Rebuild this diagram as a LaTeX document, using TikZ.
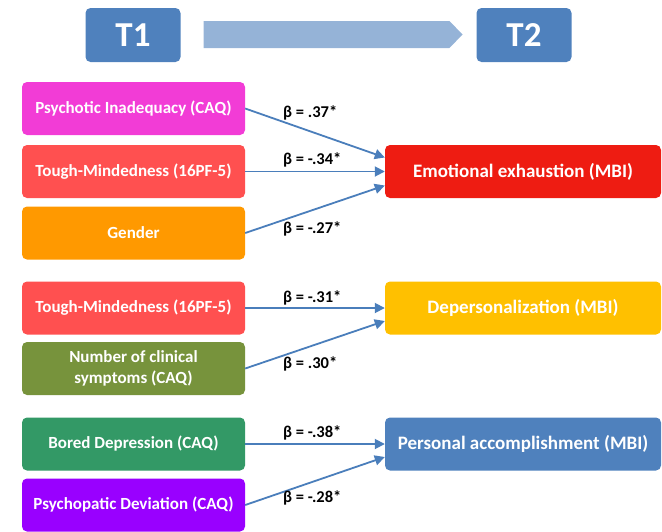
\documentclass[tikz,border=0pt]{standalone}
\usepackage{fontspec}
\setmainfont{Carlito}
\usetikzlibrary{shapes.symbols,arrows.meta}

\definecolor{timeblue}{HTML}{4F81BD}
\definecolor{bandblue}{HTML}{95B3D7}
\definecolor{arrowblue}{HTML}{4A7EBB}
\definecolor{pinkbox}{HTML}{F23CD6}
\definecolor{salmonbox}{HTML}{FF5050}
\definecolor{orangebox}{HTML}{FF9900}
\definecolor{redbox}{HTML}{EE1C12}
\definecolor{yellowbox}{HTML}{FFC000}
\definecolor{olivebox}{HTML}{77933C}
\definecolor{greenbox}{HTML}{339966}
\definecolor{purplebox}{HTML}{9900FF}

\tikzset{
  timebox/.style={fill=timeblue, rounded corners=5pt, minimum width=95, minimum height=54,
    text=white, font=\bfseries\fontsize{35}{37}\selectfont},
  factor/.style={rounded corners=5pt, minimum width=223, minimum height=53, inner sep=2pt,
    text=white, align=center, font=\bfseries\fontsize{17}{21}\selectfont},
  outcome/.style={factor, minimum width=276, font=\bfseries\fontsize{19}{21}\selectfont},
  effect/.style={draw=arrowblue, line width=1.8pt, -{Triangle[length=10pt,width=10pt]}},
  beta/.style={anchor=west, inner sep=0pt, font=\bfseries\fontsize{16.5}{18}\selectfont}
}

\begin{document}
\begin{tikzpicture}[x=1pt,y=-1pt]
\useasboundingbox (0,0) rectangle (662,531);

% time axis
\node[timebox] (t1) at (133,35) {T1};
\node[timebox] (t2) at (524,35) {T2};
\node[signal, signal to=east, signal pointer angle=92, fill=bandblue,
  minimum width=259, minimum height=27, inner sep=0pt] (span) at (326.5,34.5) {};

% emotional exhaustion
\node[factor, fill=pinkbox] (psyinad) at (133.5,108.5) {Psychotic Inadequacy (CAQ)};
\node[factor, fill=salmonbox] (tough1) at (133.5,171.5) {Tough-Mindedness (16PF-5)};
\node[factor, fill=orangebox] (gender) at (133.5,233) {Gender};
\node[outcome, fill=redbox] (exhaust) at (523,171.5) {Emotional exhaustion (MBI)};

\draw[effect] (psyinad.east) -- ([yshift=14pt]exhaust.west);
\draw[effect] (tough1.east) -- (exhaust.west);
\draw[effect] (gender.east) -- ([yshift=-14pt]exhaust.west);

\node[beta] (b1) at (283,113) {β = .37*};
\node[beta] (b2) at (283,160) {β = -.34*};
\node[beta] (b3) at (283,229) {β = -.27*};

% depersonalization
\node[factor, fill=salmonbox] (tough2) at (133.5,308) {Tough-Mindedness (16PF-5)};
\node[factor, fill=olivebox] (symptoms) at (133.5,368.5)
  {Number of clinical\\symptoms (CAQ)};
\node[outcome, fill=yellowbox] (depers) at (523,308) {Depersonalization (MBI)};

\draw[effect] (tough2.east) -- (depers.west);
\draw[effect] (symptoms.east) -- ([yshift=-13pt]depers.west);

\node[beta] (b4) at (283,298) {β = -.31*};
\node[beta] (b5) at (283,364) {β = .30*};

% personal accomplishment
\node[factor, fill=greenbox] (bored) at (133.5,444) {Bored Depression (CAQ)};
\node[factor, fill=purplebox] (psydev) at (133.5,505) {Psychopatic Deviation (CAQ)};
\node[outcome, fill=timeblue] (accomp) at (523,444) {Personal accomplishment (MBI)};

\draw[effect] (bored.east) -- (accomp.west);
\draw[effect] (psydev.east) -- ([yshift=-13pt]accomp.west);

\node[beta] (b6) at (283,433) {β = -.38*};
\node[beta] (b7) at (283,498) {β = -.28*};
\end{tikzpicture}
\end{document}
